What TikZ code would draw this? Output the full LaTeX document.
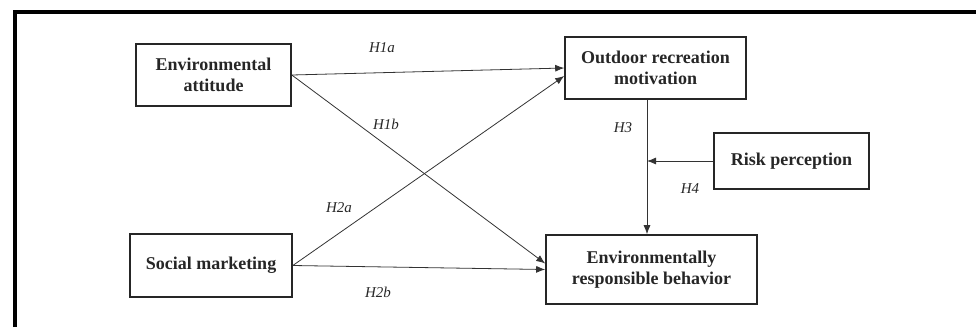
\documentclass[tikz,border=0pt]{standalone}
\usepackage{fontspec}
\setmainfont{Liberation Serif}
\usetikzlibrary{arrows.meta}

\begin{document}
\begin{tikzpicture}[x=1pt,y=-1pt,
  box/.style={draw=black!85,line width=1.6pt,align=center,inner sep=0pt,font=\fontsize{18}{21}\selectfont\bfseries,text=black!85},
  hyp/.style={inner sep=0pt,font=\fontsize{15}{18}\selectfont\itshape,text=black!85},
  hypline/.style={draw=black!80,line width=0.8pt,-{Latex[length=9pt,width=7pt]}}]
\useasboundingbox (0,0) rectangle (976,327);

%Shape: Frame
\draw [line width=4pt] (14.5,327) -- (14.5,12) -- (976,12);

% Boxes
\node [box,minimum width=155pt,minimum height=62pt] (att) at (213.5,75) {Environmental\\attitude};
\node [box,minimum width=181pt,minimum height=62pt] (orm) at (655.5,68) {Outdoor recreation\\motivation};
\node [box,minimum width=155pt,minimum height=56pt] (risk) at (791.5,161) {Risk perception};
\node [box,minimum width=162pt,minimum height=63pt] (soc) at (211,265.5) {Social marketing};
\node [box,minimum width=211pt,minimum height=69pt] (erb) at (651.5,269.5) {Environmentally\\responsible behavior};

% Paths
\draw [hypline] (att.east) -- (orm.west);
\draw [hypline] (att.east) -- ([yshift=6pt]erb.west);
\draw [hypline] (soc.east) -- ([yshift=-8pt]orm.west);
\draw [hypline] (soc.east) -- (erb.west);
\draw [hypline] ([xshift=-8.5pt]orm.south) -- ([xshift=-4.5pt]erb.north);
\coordinate (mod) at ([xshift=-8.5pt]orm.south |- risk.west);
\draw [hypline] (risk.west) -- (mod);

% Text Node
\node [hyp] (h1a) at (382,48) {H1a};
\node [hyp] (h1b) at (386,124) {H1b};
\node [hyp] (h2a) at (339,208) {H2a};
\node [hyp] (h2b) at (378,292) {H2b};
\node [hyp] (h3) at (623,128) {H3};
\node [hyp] (h4) at (690,189) {H4};

\end{tikzpicture}
\end{document}
